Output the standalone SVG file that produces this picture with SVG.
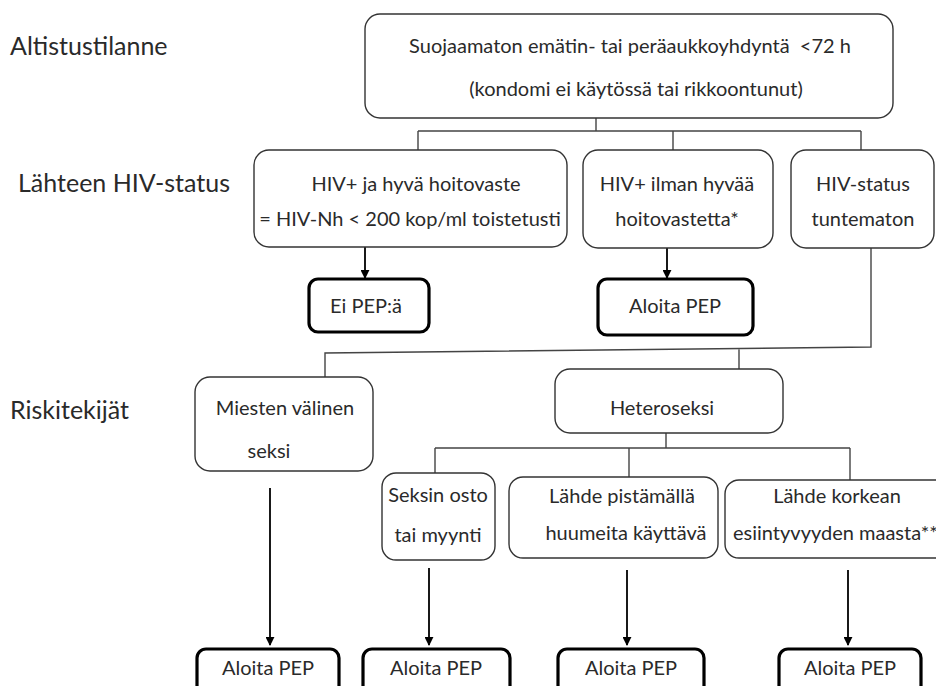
<svg xmlns="http://www.w3.org/2000/svg" width="936" height="686" viewBox="0 0 936 686">
<defs>
<style>
text{font-family:Lato,"Open Sans","Liberation Sans",sans-serif;fill:#2a2a2a}
.lbl{font-size:25px}
.t{font-size:20px;text-anchor:middle}
.box{fill:#fff;stroke:#333;stroke-width:1.4}
.res{fill:#fff;stroke:#000;stroke-width:3.2}
.ln{fill:none;stroke:#444;stroke-width:1.4}
.ar{fill:none;stroke:#000;stroke-width:1.8;marker-end:url(#ah)}
</style>
<marker id="ah" viewBox="0 0 10 10" refX="9" refY="5" markerWidth="5" markerHeight="5" orient="auto" markerUnits="strokeWidth">
<path d="M0,0 L10,5 L0,10 z" fill="#000"/>
</marker>
</defs>
<rect width="936" height="686" fill="#fff"/>
<g id="labels">
<text class="lbl" x="10" y="55">Altistustilanne</text>
<text class="lbl" x="18" y="192">Lähteen HIV-status</text>
<text class="lbl" x="10" y="419">Riskitekijät</text>
</g>
<g id="connectors">
<path class="ln" d="M596,118 V131 M418,131 H861 M418,131 V150 M673,131 V150 M861,131 V150"/>
<path class="ln" d="M871,247 V347 L325,353 V377 M739,349 V369"/>
<path class="ln" d="M666,433 V448 M435,448 H850 M435,448 V473 M629,448 V477 M850,448 V480"/>
<path class="ar" d="M365,247 V278"/>
<path class="ar" d="M667,248 V278"/>
<path class="ar" d="M270,488 V645"/>
<path class="ar" d="M429,568 V645"/>
<path class="ar" d="M627,570 V645"/>
<path class="ar" d="M848,570 V645"/>
</g>
<g id="n-top">
<rect class="box" x="365" y="14" width="528" height="104" rx="15"/>
<text class="t" x="630" y="53">Suojaamaton emätin- tai peräaukkoyhdyntä&#160; &lt;72 h</text>
<text class="t" x="636" y="96">(kondomi ei käytössä tai rikkoontunut)</text>
</g>
<g id="n-hivgood">
<rect class="box" x="254" y="150" width="313" height="97" rx="15"/>
<text class="t" x="416" y="191">HIV+ ja hyvä hoitovaste</text>
<text class="t" x="410" y="226">= HIV-Nh &lt; 200 kop/ml toistetusti</text>
</g>
<g id="n-hivbad">
<rect class="box" x="583" y="150" width="190" height="98" rx="15"/>
<text class="t" x="677" y="191">HIV+ ilman hyvää</text>
<text class="t" x="677" y="226">hoitovastetta*</text>
</g>
<g id="n-unknown">
<rect class="box" x="791" y="150" width="143" height="98" rx="15"/>
<text class="t" x="863" y="191">HIV-status</text>
<text class="t" x="863" y="226">tuntematon</text>
</g>
<g id="n-eipep">
<rect class="res" x="309" y="279" width="120" height="53" rx="9"/>
<text class="t" x="366" y="313">Ei PEP:ä</text>
</g>
<g id="n-pep1">
<rect class="res" x="598" y="279" width="155" height="56" rx="9"/>
<text class="t" x="675" y="313">Aloita PEP</text>
</g>
<g id="n-msm">
<rect class="box" x="195" y="377" width="178" height="94" rx="15"/>
<text class="t" x="285" y="415">Miesten välinen</text>
<text class="t" x="269" y="458">seksi</text>
</g>
<g id="n-hetero">
<rect class="box" x="555" y="369" width="228" height="64" rx="15"/>
<text class="t" x="662" y="415">Heteroseksi</text>
</g>
<g id="n-sex">
<rect class="box" x="382" y="473" width="113" height="87" rx="14"/>
<text class="t" x="438" y="502">Seksin osto</text>
<text class="t" x="438" y="542">tai myynti</text>
</g>
<g id="n-drugs">
<rect class="box" x="509" y="477" width="209" height="81" rx="14"/>
<text class="t" x="622" y="503">Lähde pistämällä</text>
<text class="t" x="626" y="540">huumeita käyttävä</text>
</g>
<g id="n-country">
<rect class="box" x="725" y="480" width="225" height="78" rx="14"/>
<text class="t" x="837" y="503">Lähde korkean</text>
<text x="733" y="540" style="font-size:20px">esiintyvyyden maasta**</text>
</g>
<g id="n-pep2">
<rect class="res" x="197" y="649" width="142" height="50" rx="9"/>
<text class="t" x="268" y="675">Aloita PEP</text>
</g>
<g id="n-pep3">
<rect class="res" x="363" y="649" width="147" height="50" rx="9"/>
<text class="t" x="436" y="675">Aloita PEP</text>
</g>
<g id="n-pep4">
<rect class="res" x="558" y="649" width="146" height="50" rx="9"/>
<text class="t" x="631" y="675">Aloita PEP</text>
</g>
<g id="n-pep5">
<rect class="res" x="779" y="649" width="142" height="50" rx="9"/>
<text class="t" x="850" y="675">Aloita PEP</text>
</g>
</svg>
